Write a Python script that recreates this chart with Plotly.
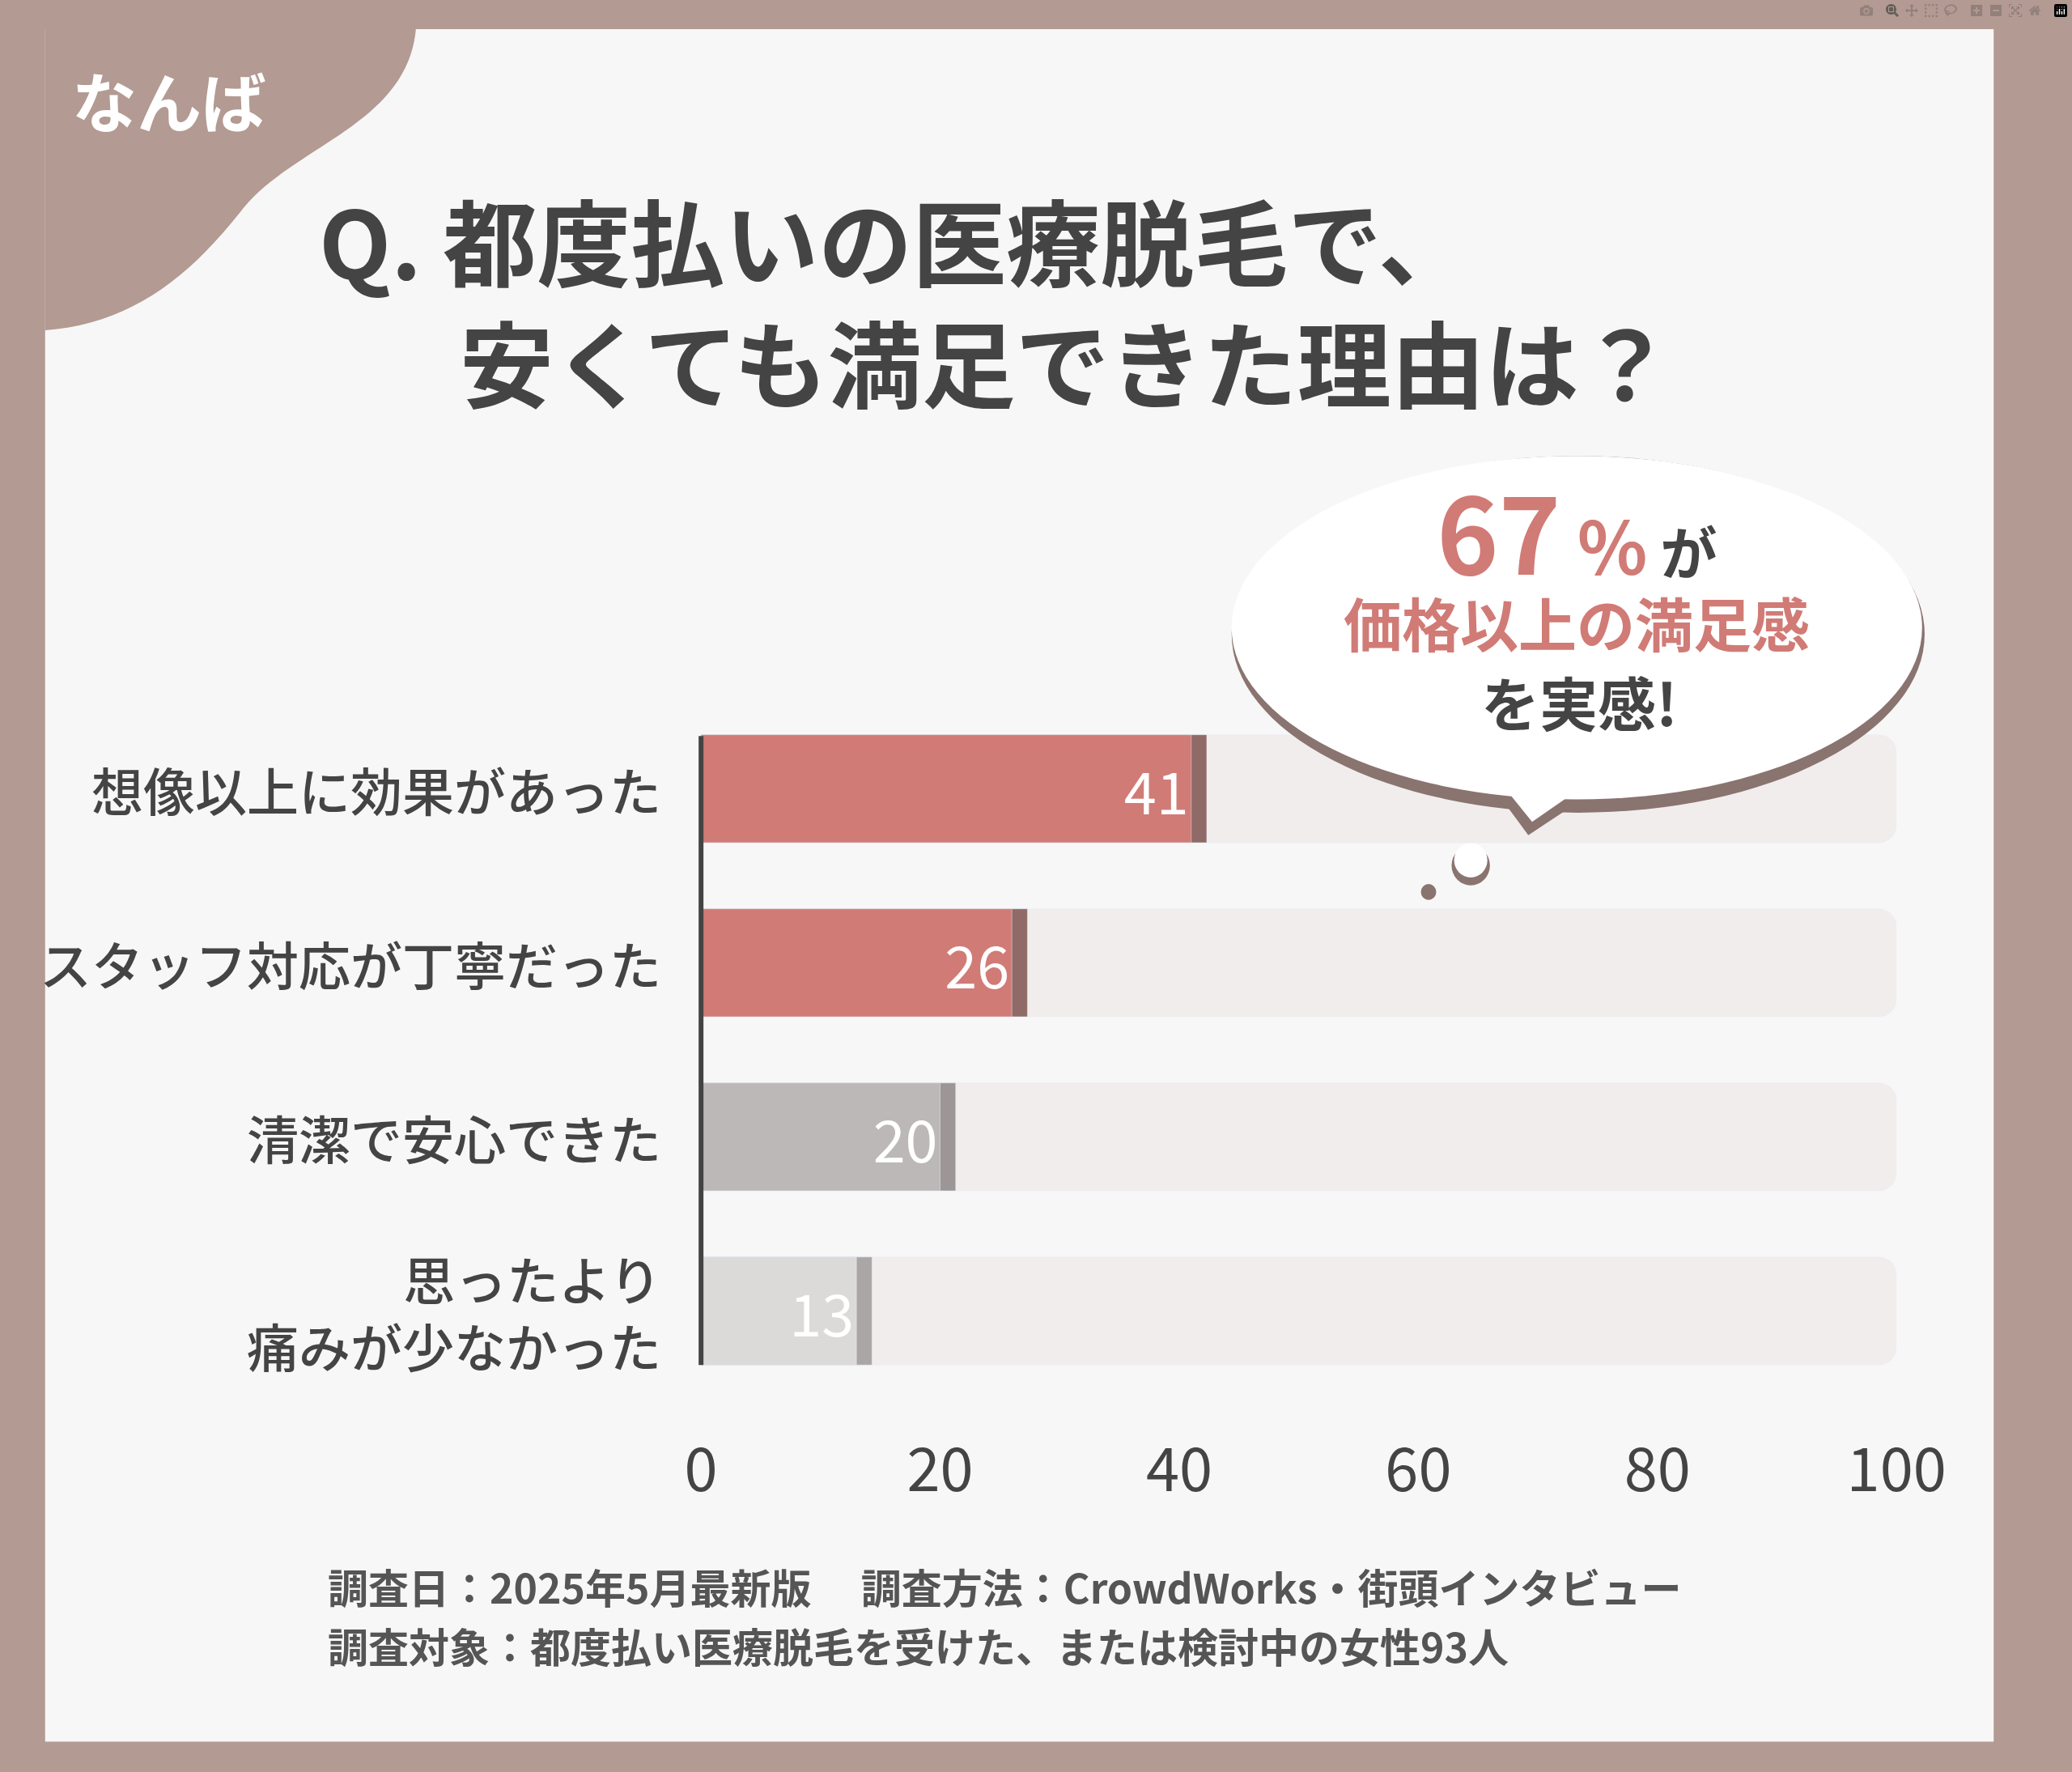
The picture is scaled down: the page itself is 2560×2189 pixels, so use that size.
import plotly.graph_objects as go

categories = ["想像以上に効果があった", "スタッフ対応が丁寧だった", "清潔で安心できた", "思ったより<br>痛みが少なかった"]
values = [41, 26, 20, 13]
bar_colors = ["#d17b76", "#d17b76", "#bdb8b8", "#dcd9d9"]
shadow_colors = ["#8f6a66", "#8f6a66", "#9c9696", "#aaa6a6"]
ticks = [0, 20, 40, 60, 80, 100]

W, H = 2560, 2189
def px(x): return x / 1568
def py(y): return 1 - y / 1341

fig = go.Figure()
ys = list(range(len(categories)))
fig.add_trace(go.Bar(y=ys, x=[100]*len(values), orientation="h", marker=dict(color="#f1eded"), width=0.62, hoverinfo="skip"))
fig.add_trace(go.Bar(y=ys, x=[v + 1.3 for v in values], orientation="h", marker=dict(color=shadow_colors), width=0.62, hoverinfo="skip"))
fig.add_trace(go.Bar(y=ys, x=values, orientation="h", marker=dict(color=bar_colors), width=0.62,
                     text=[str(v) for v in values], textposition="inside", insidetextanchor="end",
                     textfont=dict(size=72, color="white", family="Noto Sans CJK JP")))

fig.update_layout(
    width=W, height=H, margin=dict(l=0, r=0, t=0, b=0),
    paper_bgcolor="#b39a92", plot_bgcolor="rgba(0,0,0,0)",
    barmode="overlay", barcornerradius=22, showlegend=False,
    xaxis=dict(domain=[px(535), px(1470)], range=[0, 100], tickvals=ticks, showgrid=False, zeroline=False,
               tickfont=dict(size=74, color="#444", family="Noto Sans CJK JP"), ticks="", ticklabelstandoff=40),
    yaxis=dict(domain=[py(1058), py(531)], range=[3.5, -0.5], showticklabels=False, showgrid=False, zeroline=False),
)

shapes = [
    dict(type="rect", xref="paper", yref="paper", x0=px(22), x1=px(1546), y0=py(1318), y1=py(22),
         fillcolor="#f8f7f7", line=dict(width=0), layer="below"),
    dict(type="path", xref="paper", yref="paper", layer="below",
         path=f"M {px(22)},{py(22)} L {px(312)},{py(22)} C {px(305)},{py(95)} {px(215)},{py(110)} {px(175)},{py(160)} "
              f"C {px(130)},{py(215)} {px(85)},{py(245)} {px(22)},{py(250)} Z",
         fillcolor="#b39a92", line=dict(width=0)),
    dict(type="line", xref="paper", yref="paper", x0=px(535), x1=px(535), y0=py(1033), y1=py(557),
         line=dict(color="#444", width=6)),
    dict(type="circle", xref="paper", yref="paper", x0=px(950), x1=px(1492), y0=py(615), y1=py(345),
         fillcolor="#8a7470", line=dict(width=0)),
    dict(type="path", xref="paper", yref="paper",
         path=f"M {px(1150)},{py(590)} L {px(1182)},{py(632)} L {px(1240)},{py(595)} Z",
         fillcolor="#8a7470", line=dict(width=0)),
    dict(type="circle", xref="paper", yref="paper", x0=px(950), x1=px(1490), y0=py(605), y1=py(345),
         fillcolor="white", line=dict(width=0)),
    dict(type="path", xref="paper", yref="paper",
         path=f"M {px(1150)},{py(580)} L {px(1185)},{py(622)} L {px(1240)},{py(585)} Z",
         fillcolor="white", line=dict(width=0)),
    dict(type="circle", xref="paper", yref="paper", x0=px(1122), x1=px(1152), y0=py(670), y1=py(640),
         fillcolor="#8a7470", line=dict(width=0)),
    dict(type="circle", xref="paper", yref="paper", x0=px(1124), x1=px(1150), y0=py(664), y1=py(638),
         fillcolor="white", line=dict(width=0)),
    dict(type="circle", xref="paper", yref="paper", x0=px(1098), x1=px(1110), y0=py(681), y1=py(669),
         fillcolor="#8a7470", line=dict(width=0)),
]
fig.update_layout(shapes=shapes)

F = "Noto Sans CJK JP"
ann = []
def A(x, y, t, size, color="#444", xa="left", bold=True):
    ann.append(dict(x=px(x), y=py(y), xref="paper", yref="paper", text=f"<b>{t}</b>" if bold else t,
                    showarrow=False, xanchor=xa, yanchor="middle", align=xa,
                    font=dict(size=size, color=color, family=F)))

A(42, 75, "なんば", 80, "white")
A(235, 180, "Q. 都度払いの医療脱毛で、", 116)
A(345, 272, "安くても満足できた理由は？", 116)
for i, c in enumerate(categories):
    ann.append(dict(x=px(505), y=i, xref="paper", yref="y", text=c, showarrow=False,
                    xanchor="right", yanchor="middle", align="right",
                    font=dict(size=64, color="#444", family=F, weight=500)))
A(1220, 400, "<span style='font-size:130px;color:#d17b76'>67</span><span style='font-size:90px;color:#d17b76'> %</span> が", 70, "#444", "center")
A(1220, 470, "価格以上の満足感", 72, "#d17b76", "center")
A(1222, 530, "を実感!", 72, "#444", "center")
A(242, 1200, "調査日：2025年5月最新版　 調査方法：CrowdWorks・街頭インタビュー", 50, "#555")
A(242, 1245, "調査対象：都度払い医療脱毛を受けた、または検討中の女性93人", 50, "#555")
fig.update_layout(annotations=ann)
fig.write_html("out.html", post_script="document.body.style.margin='0';document.body.style.overflow='hidden';")
